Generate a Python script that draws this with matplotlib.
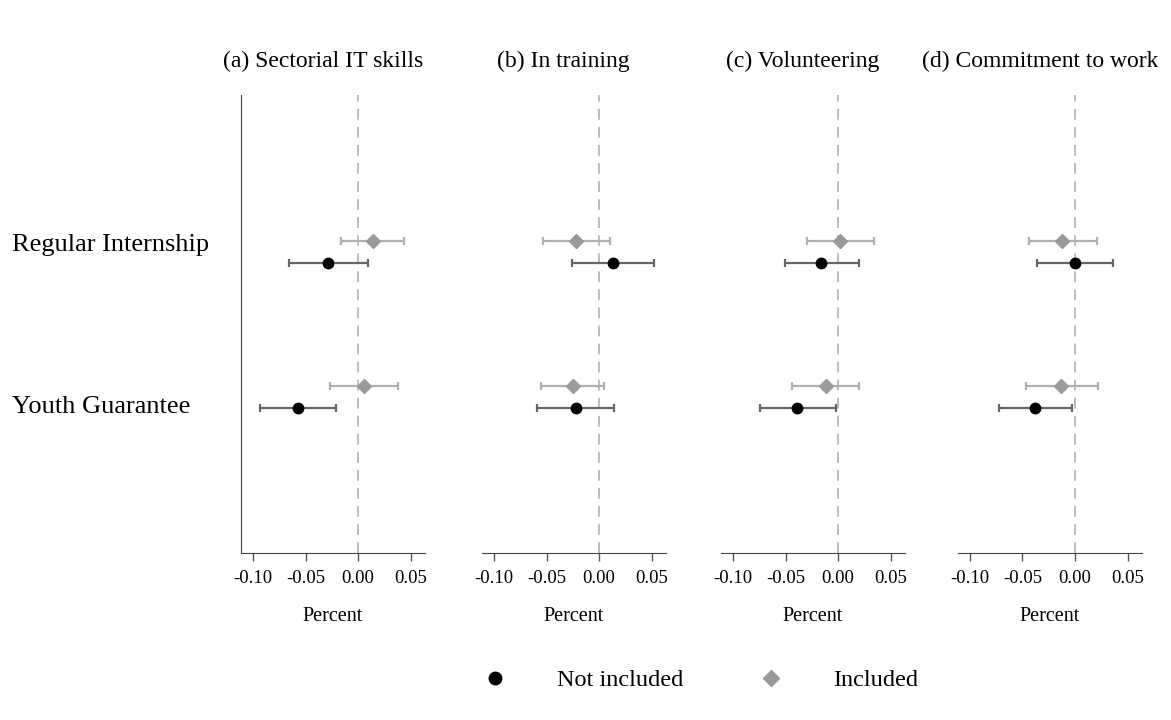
import numpy as np
import matplotlib.pyplot as plt
from matplotlib.transforms import blended_transform_factory
from matplotlib.lines import Line2D

plt.rcParams['font.family'] = ['Liberation Serif', 'DejaVu Serif']

# Панели и строки
titles = ['(a) Sectorial IT skills', '(b) In training', '(c) Volunteering', '(d) Commitment to work']
rows = ['Regular Internship', 'Youth Guarantee']

# Оценки: [Regular Internship, Youth Guarantee] для каждой панели
not_incl = [[-0.029, -0.057], [0.013, -0.022], [-0.016, -0.039], [0.000, -0.038]]
not_incl_lo = [[-0.066, -0.093], [-0.026, -0.059], [-0.051, -0.074], [-0.036, -0.072]]
not_incl_hi = [[0.009, -0.021], [0.052, 0.014], [0.020, -0.002], [0.036, -0.003]]

incl = [[0.014, 0.006], [-0.022, -0.025], [0.002, -0.012], [-0.012, -0.013]]
incl_lo = [[-0.016, -0.027], [-0.053, -0.055], [-0.030, -0.044], [-0.044, -0.047]]
incl_hi = [[0.044, 0.038], [0.010, 0.005], [0.034, 0.020], [0.021, 0.022]]

xticks = [-0.10, -0.05, 0.00, 0.05]

fig = plt.figure(figsize=(11.71, 7.2), dpi=100)
lefts = [0.2058, 0.4116, 0.6157, 0.818]
row_y = np.array([2, 1])
off = 0.076

for i, left in enumerate(lefts):
    ax = fig.add_axes([left, 0.232, 0.157, 0.636])
    ax.axvline(0, color='#b8b8b8', linestyle=(0, (6, 4)), linewidth=1.3, zorder=0)

    x = np.array(incl[i])
    ax.errorbar(x, row_y + off,
                xerr=[x - np.array(incl_lo[i]), np.array(incl_hi[i]) - x],
                fmt='D', color='#9a9a9a', ecolor='#b0b0b0', markersize=7.2,
                elinewidth=1.6, capsize=2.6, capthick=1.6)
    x = np.array(not_incl[i])
    ax.errorbar(x, row_y - off,
                xerr=[x - np.array(not_incl_lo[i]), np.array(not_incl_hi[i]) - x],
                fmt='o', color='black', ecolor='#666666', markersize=7.5,
                elinewidth=1.6, capsize=2.6, capthick=1.6)

    ax.set_xlim(-0.1115, 0.0635)
    ax.set_ylim(-0.079, 3.086)
    ax.set_xticks(xticks)
    ax.set_xticklabels(['%.2f' % t for t in xticks], fontsize=13.5)
    ax.tick_params(axis='x', length=6, width=1, color='#555555', pad=6)
    ax.set_yticks([])
    ax.set_xlabel('Percent', fontsize=14.5, labelpad=15)
    ax.set_title(titles[i], fontsize=17, x=0.445, pad=20)
    for s in ['top', 'right']:
        ax.spines[s].set_visible(False)
    ax.spines['bottom'].set_color('#444444')
    if i == 0:
        ax.spines['left'].set_color('#444444')
        tr = blended_transform_factory(fig.transFigure, ax.transData)
        ax.text(0.010, 2.05, rows[0], transform=tr, fontsize=19, va='center', ha='left')
        ax.text(0.010, 0.93, rows[1], transform=tr, fontsize=19, va='center', ha='left')
    else:
        ax.spines['left'].set_visible(False)

handles = [Line2D([], [], marker='o', color='black', linestyle='none', markersize=9),
           Line2D([], [], marker='D', color='#9a9a9a', linestyle='none', markersize=8)]
fig.legend(handles, ['Not included', 'Included'], loc='center', bbox_to_anchor=(0.598, 0.055),
           ncol=2, frameon=False, fontsize=17.5, handlelength=1.0, handletextpad=2.05,
           columnspacing=3.1)

fig.savefig('out.png', dpi=100)
